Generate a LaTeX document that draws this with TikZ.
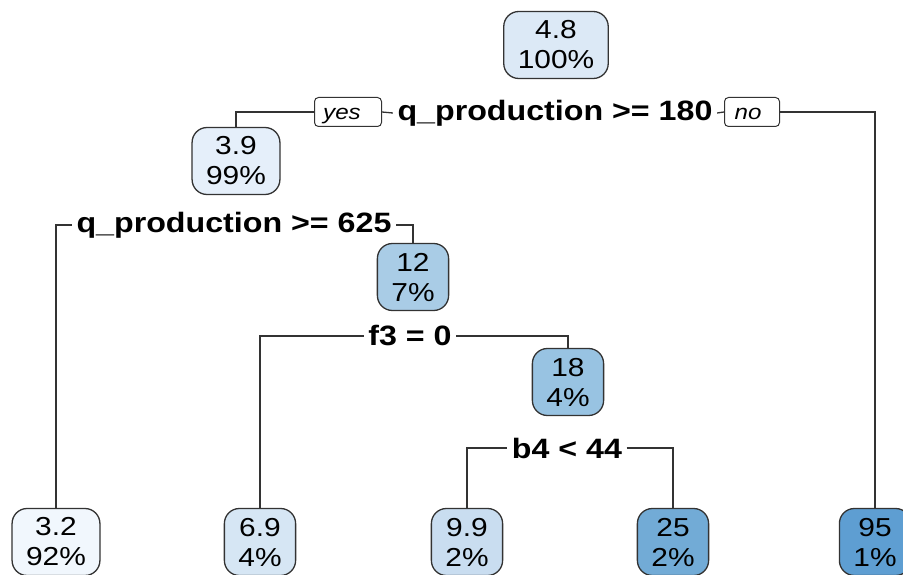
\documentclass[tikz,border=0pt]{standalone}
\usepackage{fontspec}
\setmainfont{Liberation Sans}[FakeStretch=1.15]

% fill shades, light to dark
\definecolor{shade1}{HTML}{F1F7FD}
\definecolor{shade2}{HTML}{E5EFFA}
\definecolor{shade3}{HTML}{DCE9F6}
\definecolor{shade4}{HTML}{D6E6F4}
\definecolor{shade5}{HTML}{C9DDF0}
\definecolor{shade6}{HTML}{A9CCE6}
\definecolor{shade7}{HTML}{98C3E2}
\definecolor{shade8}{HTML}{72ABD6}
\definecolor{shade9}{HTML}{5E9ED2}
\definecolor{edgegray}{HTML}{333333}

\begin{document}
\begin{tikzpicture}[x=1pt, y=-1pt, line width=1.3pt, draw=edgegray,
  leaf/.style={rectangle, draw=edgegray, rounded corners=15pt, align=center, inner xsep=14pt, minimum height=67pt, font=\fontsize{26}{30}\selectfont},
  split/.style={inner xsep=4pt, font=\bfseries\fontsize{28}{30}\selectfont},
  answer/.style={rectangle, draw=edgegray, rounded corners=4pt, line width=1pt, inner xsep=0pt, inner ysep=0pt, text height=18pt, text depth=2pt, minimum height=29pt, font=\itshape\fontsize{21}{24}\selectfont}]

  \useasboundingbox (0,0) rectangle (903,575);
  \clip (0,0) rectangle (903,575);

  % tree nodes
  \node[leaf, fill=shade3] (root) at (556,45)  {4.8\\100\%};
  \node[leaf, fill=shade2] (n39)  at (236,161) {3.9\\99\%};
  \node[leaf, fill=shade6] (n12)  at (413,277) {12\\7\%};
  \node[leaf, fill=shade7] (n18)  at (568,382) {18\\4\%};

  \node[leaf, fill=shade1] (n32) at (56,542)  {3.2\\92\%};
  \node[leaf, fill=shade4] (n69) at (260,542) {6.9\\4\%};
  \node[leaf, fill=shade5] (n99) at (467,542) {9.9\\2\%};
  \node[leaf, fill=shade8] (n25) at (673,542) {25\\2\%};
  \node[leaf, fill=shade9] (n95) at (875,542) {95\\1\%};

  % split labels
  \node[split] (s1) at (555,113) {q\_production >= 180};
  \node[answer, minimum width=67pt] (yes) at (348,112) {\hspace*{-12pt}yes};
  \node[answer, minimum width=55pt] (no)  at (752,112) {\hspace*{-8pt}no};
  \node[split] (s2) at (234,225) {q\_production >= 625};
  \node[split] (s3) at (410,336) {f3 = 0};
  \node[split] (s4) at (567,448) {b4 < 44};

  % branches
  \draw (n39.north) |- (yes.west);
  \draw (yes.east) -- (s1.west);
  \draw (s1.east) -- (no.west);
  \draw (no.east) -| (n95.north);

  \draw (n32.north) |- (s2.west);
  \draw (s2.east) -| (n12.north);

  \draw (n69.north) |- (s3.west);
  \draw (s3.east) -| (n18.north);

  \draw (n99.north) |- (s4.west);
  \draw (s4.east) -| (n25.north);

\end{tikzpicture}
\end{document}
